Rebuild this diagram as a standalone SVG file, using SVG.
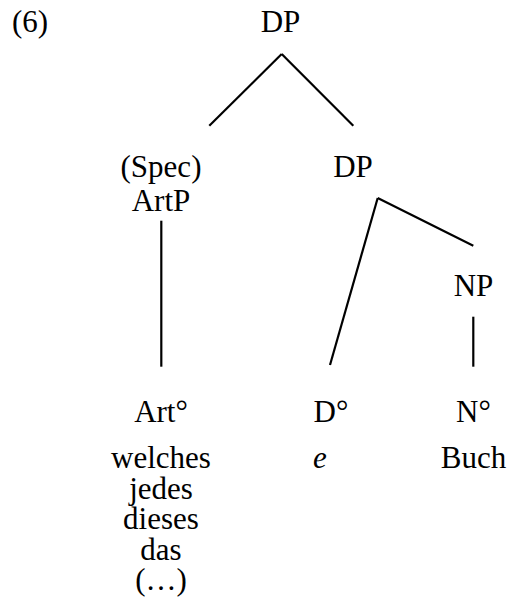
<svg xmlns="http://www.w3.org/2000/svg" width="511" height="609" viewBox="0 0 511 609">
<style>
text { font-family: "Liberation Serif", "Times New Roman", serif; font-size: 31px; fill: #000; text-anchor: middle; }
.conn line { stroke: #000; stroke-width: 2.2; stroke-linecap: butt; }
</style>
<rect width="511" height="609" fill="#fff"/>
<text x="12" y="32" style="text-anchor:start">(6)</text>
<g id="dp-root"><text x="280.5" y="32">DP</text></g>
<g id="spec-artp"><text x="161" y="177">(Spec)</text><text x="161" y="211">ArtP</text></g>
<g id="dp-2"><text x="353" y="177">DP</text></g>
<g id="np"><text x="473.5" y="296">NP</text></g>
<g id="art0"><text x="161" y="422">Art°</text></g>
<g id="d0"><text x="331" y="422">D°</text></g>
<g id="n0"><text x="473.5" y="422">N°</text></g>
<g id="art-words">
<text x="161" y="468">welches</text>
<text x="161" y="498.5">jedes</text>
<text x="161" y="529">dieses</text>
<text x="161" y="559.5">das</text>
<text x="161" y="590">(…)</text>
</g>
<g id="d-word"><text x="320" y="468" font-style="italic">e</text></g>
<g id="n-word"><text x="473.5" y="468">Buch</text></g>
<g class="conn" id="connectors">
<line x1="281.7" y1="54" x2="209.3" y2="125.7"/>
<line x1="281.7" y1="54" x2="353.3" y2="125.7"/>
<line x1="161.3" y1="220.7" x2="161.3" y2="366.7"/>
<line x1="377.7" y1="198" x2="330" y2="365"/>
<line x1="377.7" y1="198" x2="473.3" y2="245.7"/>
<line x1="473.3" y1="316.7" x2="473.3" y2="366.7"/>
</g>
</svg>
